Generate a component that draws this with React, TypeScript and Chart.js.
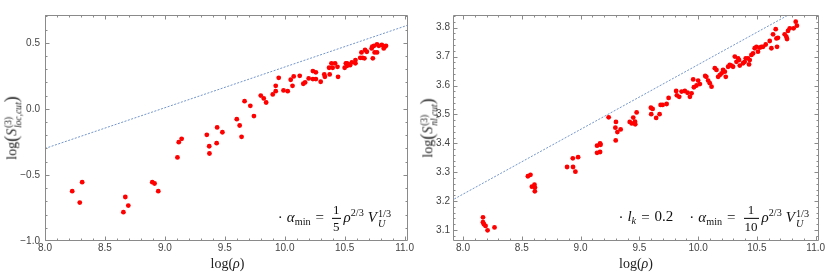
import React, { useEffect, useRef } from "react";
import { Chart, registerables } from "chart.js";

Chart.register(...registerables);

// ---------- data ----------
const leftRho = [
  8.227, 8.29, 8.31, 8.654, 8.67, 8.695, 8.895, 8.914, 8.945, 9.105, 9.116, 9.14,
  9.35, 9.37, 9.372, 9.432, 9.436, 9.48, 9.6, 9.624, 9.64, 9.665, 9.713, 9.743,
  9.8, 9.825, 9.845, 9.9, 9.925, 9.925, 9.95, 9.99, 10.025, 10.05, 10.065, 10.075,
  10.125, 10.155, 10.17, 10.2, 10.235, 10.235, 10.26, 10.26, 10.3, 10.33, 10.335,
  10.375, 10.37, 10.39, 10.4, 10.42, 10.44, 10.445, 10.5, 10.51, 10.52, 10.52,
  10.535, 10.545, 10.56, 10.59, 10.59, 10.63, 10.64, 10.65, 10.665, 10.67, 10.685,
  10.725, 10.73, 10.735, 10.745, 10.75, 10.77, 10.77, 10.785, 10.81, 10.826,
  10.835, 10.845,
];
const leftS = [
  -0.623, -0.709, -0.555, -0.782, -0.667, -0.732, -0.555, -0.565, -0.623, -0.368,
  -0.252, -0.227, -0.197, -0.283, -0.338, -0.26, -0.141, -0.177, -0.078, -0.126,
  -0.212, 0.058, 0.023, -0.055, 0.1, 0.079, 0.048, 0.109, 0.134, 0.174, 0.235,
  0.139, 0.134, 0.22, 0.174, 0.245, 0.25, 0.19, 0.2, 0.23, 0.286, 0.225, 0.276,
  0.225, 0.205, 0.26, 0.242, 0.26, 0.311, 0.344, 0.311, 0.344, 0.318, 0.242,
  0.311, 0.344, 0.344, 0.326, 0.336, 0.33, 0.351, 0.369, 0.344, 0.386, 0.427,
  0.386, 0.382, 0.445, 0.432, 0.457, 0.47, 0.382, 0.477, 0.427, 0.427, 0.488,
  0.477, 0.483, 0.457, 0.47, 0.477,
];
const leftFitRho = [8.0, 11.03];
const leftFitS = [-0.3, 0.634];

const rightRho = [
  8.17, 8.17, 8.178, 8.192, 8.209, 8.268, 8.552, 8.574, 8.586, 8.608, 8.612, 8.611,
  8.885, 8.934, 8.936, 8.956, 8.979, 9.14, 9.14, 9.166, 9.166, 9.17, 9.239, 9.299,
  9.296, 9.301, 9.313, 9.341, 9.418, 9.435, 9.448, 9.463, 9.465, 9.477, 9.598,
  9.601, 9.613, 9.643, 9.672, 9.681, 9.698, 9.732, 9.749, 9.813, 9.819, 9.839,
  9.859, 9.887, 9.91, 9.93, 9.944, 9.958, 9.964, 9.986, 10.0, 10.015, 10.06, 10.07,
  10.085, 10.099, 10.114, 10.142, 10.156, 10.17, 10.184, 10.199, 10.212, 10.227,
  10.235, 10.255, 10.269, 10.283, 10.297, 10.312, 10.326, 10.34, 10.348, 10.354,
  10.382, 10.396, 10.405, 10.424, 10.433, 10.439, 10.453, 10.467, 10.481, 10.496,
  10.509, 10.524, 10.538, 10.552, 10.575, 10.609, 10.623, 10.637, 10.66, 10.666,
  10.671, 10.679, 10.736, 10.75, 10.756, 10.764, 10.779, 10.812, 10.83, 10.84,
];
const rightS = [
  3.144, 3.127, 3.12, 3.114, 3.099, 3.109, 3.286, 3.291, 3.25, 3.257, 3.247, 3.234,
  3.318, 3.348, 3.318, 3.302, 3.352, 3.392, 3.367, 3.4, 3.37, 3.395, 3.49, 3.41,
  3.454, 3.474, 3.439, 3.448, 3.474, 3.469, 3.489, 3.475, 3.466, 3.507, 3.523,
  3.501, 3.519, 3.488, 3.501, 3.533, 3.533, 3.536, 3.557, 3.581, 3.566, 3.561,
  3.579, 3.581, 3.575, 3.561, 3.573, 3.621, 3.594, 3.6, 3.617, 3.605, 3.633, 3.63,
  3.617, 3.608, 3.596, 3.66, 3.654, 3.63, 3.636, 3.642, 3.654, 3.648, 3.63, 3.665,
  3.671, 3.669, 3.665, 3.7, 3.682, 3.694, 3.688, 3.669, 3.677, 3.682, 3.694, 3.694,
  3.673, 3.688, 3.706, 3.711, 3.729, 3.734, 3.717, 3.731, 3.734, 3.734, 3.742,
  3.754, 3.729, 3.777, 3.795, 3.763, 3.734, 3.765, 3.777, 3.769, 3.761, 3.789,
  3.798, 3.798, 3.821, 3.807,
];
const rightFitRho = [7.9, 11.03];
const rightFitS = [3.2016, 3.903];

const xTicks = [8.0, 8.5, 9.0, 9.5, 10.0, 10.5, 11.0];
const leftYTicks = [-1.0, -0.5, 0.0, 0.5];
const rightYTicks = [3.1, 3.2, 3.3, 3.4, 3.5, 3.6, 3.7, 3.8];

// ---------- helpers ----------
const range = (a: number, b: number, step: number) => {
  const out: number[] = [];
  const n = Math.round((b - a) / step);
  for (let i = 0; i <= n; i++) out.push(+(a + i * step).toFixed(4));
  return out;
};
const fmt = (v: number) => Number(v).toFixed(1).replace("-", "\u2212");

const framePlugin = {
  id: "frame",
  afterDraw(chart: any, _args: any, opts: any) {
    const { ctx, chartArea: a, scales } = chart;
    const xs = scales.x;
    const ys = scales.y;
    ctx.save();
    ctx.strokeStyle = "#8a8a8a";
    ctx.lineWidth = 1;
    const L = Math.round(a.left) + 0.5;
    const R = Math.round(a.right) - 0.5;
    const T = Math.round(a.top) + 0.5;
    const B = Math.round(a.bottom) - 0.5;
    ctx.beginPath();
    ctx.rect(L, T, R - L, B - T);
    ctx.stroke();
    ctx.beginPath();
    const drawX = (vals: number[], len: number) => {
      vals.forEach((v) => {
        const p = Math.round(xs.getPixelForValue(v)) + 0.5;
        if (p < L || p > R) return;
        ctx.moveTo(p, B);
        ctx.lineTo(p, B - len);
        ctx.moveTo(p, T);
        ctx.lineTo(p, T + len);
      });
    };
    const drawY = (vals: number[], len: number) => {
      vals.forEach((v) => {
        const p = Math.round(ys.getPixelForValue(v)) + 0.5;
        if (p < T || p > B) return;
        ctx.moveTo(L, p);
        ctx.lineTo(L + len, p);
        ctx.moveTo(R, p);
        ctx.lineTo(R - len, p);
      });
    };
    drawX(opts.xMajor, 4);
    drawX(opts.xMinor, 2);
    drawY(opts.yMajor, 4);
    drawY(opts.yMinor, 2);
    ctx.stroke();
    ctx.restore();
  },
};

type PanelSpec = {
  rho: number[];
  s: number[];
  fitRho: number[];
  fitS: number[];
  xMin: number;
  xMax: number;
  yMin: number;
  yMax: number;
  yTicks: number[];
  yMinor: number[];
  yWidth: number;
  yPad: number;
  padRight: number;
};

function makeConfig(p: PanelSpec): any {
  const pts = p.rho.map((x, i) => ({ x, y: p.s[i] }));
  const fit = p.fitRho.map((x, i) => ({ x, y: p.fitS[i] }));
  const tickFont = { family: "'Liberation Sans', Arial, sans-serif", size: 10 };
  return {
    type: "scatter",
    data: {
      datasets: [
        {
          data: fit,
          showLine: true,
          borderColor: "#7396cc",
          borderWidth: 1,
          borderDash: [2, 1.5],
          pointRadius: 0,
          fill: false,
          order: 2,
        },
        {
          data: pts,
          backgroundColor: "#ff0000",
          borderWidth: 0,
          pointRadius: 2.4,
          order: 1,
        },
      ],
    },
    options: {
      animation: false,
      responsive: false,
      maintainAspectRatio: false,
      events: [],
      layout: { padding: { top: 15, right: p.padRight, left: 0, bottom: 0 } },
      plugins: {
        legend: { display: false },
        tooltip: { enabled: false },
        frame: {
          xMajor: xTicks,
          xMinor: range(7.9, 11.1, 0.1),
          yMajor: p.yTicks,
          yMinor: p.yMinor,
        },
      },
      scales: {
        x: {
          type: "linear",
          min: p.xMin,
          max: p.xMax,
          grid: { display: false, drawTicks: false },
          border: { display: false },
          afterBuildTicks: (sc: any) => {
            sc.ticks = xTicks.map((v) => ({ value: v }));
          },
          afterFit: (sc: any) => {
            sc.height = 39;
          },
          ticks: {
            callback: (v: any) => fmt(v),
            font: tickFont,
            color: "#444",
            padding: 1,
            maxRotation: 0,
            autoSkip: false,
          },
        },
        y: {
          type: "linear",
          min: p.yMin,
          max: p.yMax,
          grid: { display: false, drawTicks: false },
          border: { display: false },
          afterBuildTicks: (sc: any) => {
            sc.ticks = p.yTicks.map((v) => ({ value: v }));
          },
          afterFit: (sc: any) => {
            sc.width = p.yWidth;
          },
          ticks: {
            callback: (v: any) => fmt(v),
            font: tickFont,
            color: "#444",
            padding: p.yPad,
            autoSkip: false,
          },
        },
      },
    },
    plugins: [framePlugin],
  };
}

const leftSpec: PanelSpec = {
  rho: leftRho,
  s: leftS,
  fitRho: leftFitRho,
  fitS: leftFitS,
  xMin: 8.0,
  xMax: 11.03,
  yMin: -1.0,
  yMax: 0.71,
  yTicks: leftYTicks,
  yMinor: range(-1.0, 0.7, 0.1),
  yWidth: 45,
  yPad: 5,
  padRight: 5,
};

const rightSpec: PanelSpec = {
  rho: rightRho,
  s: rightS,
  fitRho: rightFitRho,
  fitS: rightFitS,
  xMin: 7.915,
  xMax: 11.028,
  yMin: 3.062,
  yMax: 3.844,
  yTicks: rightYTicks,
  yMinor: range(3.06, 3.84, 0.02),
  yWidth: 38,
  yPad: 3,
  padRight: 11,
};

function Panel({ spec, left }: { spec: PanelSpec; left: number }) {
  const ref = useRef<HTMLCanvasElement | null>(null);
  useEffect(() => {
    if (!ref.current) return;
    const chart = new Chart(ref.current, makeConfig(spec));
    return () => chart.destroy();
  }, []);
  return (
    <canvas
      ref={ref}
      width={415}
      height={280}
      style={{ position: "absolute", left, top: 0, width: 415, height: 280 }}
    />
  );
}

// ---------- math text ----------
const serif = "'Liberation Serif', 'DejaVu Serif', 'Times New Roman', serif";

function Frac({ num, den }: { num: string; den: string }) {
  return (
    <span
      style={{
        display: "inline-flex",
        flexDirection: "column",
        alignItems: "center",
        verticalAlign: "middle",
        fontSize: 13,
        lineHeight: 1.05,
        margin: "0 3px 0 3px",
      }}
    >
      <span style={{ padding: "0 1px 1px" }}>{num}</span>
      <span style={{ borderTop: "1px solid #000", padding: "1px 1px 0", alignSelf: "stretch", textAlign: "center" }}>
        {den}
      </span>
    </span>
  );
}

function SubSup({ sup, sub, subItalic }: { sup: string; sub: string; subItalic?: boolean }) {
  return (
    <span
      style={{
        display: "inline-flex",
        flexDirection: "column",
        verticalAlign: "0.45em",
        fontSize: "0.68em",
        lineHeight: 1.0,
        marginLeft: 1,
      }}
    >
      <span>{sup}</span>
      <span style={{ fontStyle: subItalic ? "italic" : "normal" }}>{sub}</span>
    </span>
  );
}

function AlphaFormula({ den }: { den: string }) {
  return (
    <span>
      <span style={{ marginRight: 4 }}>·</span>
      <i>α</i>
      <sub style={{ fontSize: "0.68em", verticalAlign: "-0.3em", fontStyle: "normal" }}>min</sub>
      <span style={{ margin: "0 5px" }}>=</span>
      <Frac num="1" den={den} />
      <i>ρ</i>
      <sup style={{ fontSize: "0.68em", verticalAlign: "0.55em" }}>2/3</sup>
      <span style={{ display: "inline-block", width: 4 }} />
      <i>V</i>
      <SubSup sup="1/3" sub="U" subItalic />
    </span>
  );
}

function YTitle({ sub, x, y }: { sub: string; x: number; y: number }) {
  return (
    <div
      style={{
        position: "absolute",
        left: x,
        top: y,
        transform: "translate(-50%, -50%) rotate(-90deg)",
        whiteSpace: "nowrap",
        fontFamily: serif,
        fontSize: 14,
        color: "#222",
        lineHeight: 1,
      }}
    >
      log
      <span style={{ fontSize: 18, verticalAlign: "-0.08em" }}>(</span>
      <i>S</i>
      <SubSup sup="(3)" sub={sub} subItalic />
      <span style={{ fontSize: 18, verticalAlign: "-0.08em" }}>)</span>
    </div>
  );
}

function XTitle({ x }: { x: number }) {
  return (
    <div
      style={{
        position: "absolute",
        left: x,
        top: 264,
        transform: "translate(-50%, -50%)",
        whiteSpace: "nowrap",
        fontFamily: serif,
        fontSize: 14,
        color: "#222",
        lineHeight: 1,
      }}
    >
      log(<i>ρ</i>)
    </div>
  );
}

export default function App() {
  return (
    <div
      style={{
        position: "absolute",
        left: 0,
        top: 0,
        width: 830,
        height: 280,
        background: "#fff",
        overflow: "hidden",
      }}
    >
      <Panel spec={leftSpec} left={0} />
      <Panel spec={rightSpec} left={415} />
      <XTitle x={227.5} />
      <XTitle x={636} />
      <YTitle sub="loc,cut" x={13} y={128} />
      <YTitle sub="nl,cut" x={429} y={128} />
      <div
        style={{
          position: "absolute",
          right: 830 - 391,
          top: 218,
          transform: "translateY(-50%)",
          fontFamily: serif,
          fontSize: 15,
          color: "#111",
          whiteSpace: "nowrap",
        }}
      >
        <AlphaFormula den="5" />
      </div>
      <div
        style={{
          position: "absolute",
          right: 830 - 809,
          top: 218,
          transform: "translateY(-50%)",
          fontFamily: serif,
          fontSize: 15,
          color: "#111",
          whiteSpace: "nowrap",
        }}
      >
        <span style={{ marginRight: 4 }}>·</span>
        <i>l</i>
        <sub style={{ fontSize: "0.68em", verticalAlign: "-0.3em" }}>
          <i>k</i>
        </sub>
        <span style={{ margin: "0 5px" }}>=</span>
        <span>0.2</span>
        <span style={{ display: "inline-block", width: 16 }} />
        <AlphaFormula den="10" />
      </div>
    </div>
  );
}
